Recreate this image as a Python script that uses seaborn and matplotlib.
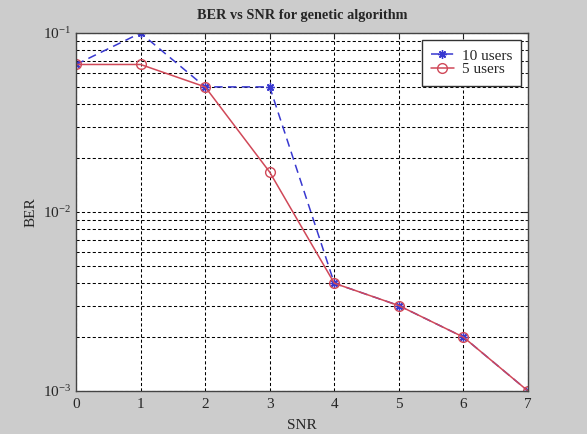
import numpy as np
import pandas as pd
import matplotlib
matplotlib.use('Agg')
import matplotlib.pyplot as plt
import seaborn as sns

snr = [0, 1, 2, 3, 4, 5, 6, 7]
ber_10_users = [0.0667, 0.1, 0.05, 0.05, 0.004, 0.003, 0.002, 0.001]
ber_5_users = [0.0667, 0.0667, 0.05, 0.0167, 0.004, 0.003, 0.002, 0.001]

sns.set_style('white')
plt.rcParams['font.family'] = ['Liberation Serif', 'DejaVu Serif']
plt.rcParams['mathtext.fontset'] = 'stix'

df10 = pd.DataFrame({'SNR': snr, 'BER': ber_10_users})
df5 = pd.DataFrame({'SNR': snr, 'BER': ber_5_users})

fig = plt.figure(figsize=(5.87, 4.34), dpi=100, facecolor='#cccccc')
ax = fig.add_axes([76/587, 1 - 391/434, 452/587, 358/434])
ax.set_facecolor('white')

sns.lineplot(data=df10, x='SNR', y='BER', ax=ax, color='#3838d0', marker=(8, 2, 0),
             markersize=6, markeredgecolor='#3838d0', markeredgewidth=1.0,
             linewidth=1.1, label='10 users')
ax.lines[-1].set_dashes([5.5, 3.5])
sns.lineplot(data=df5, x='SNR', y='BER', ax=ax, color='#d04858', marker='o',
             markersize=7, markerfacecolor='none', markeredgecolor='#d04858',
             markeredgewidth=1.0, linewidth=1.1, label='5 users')

ax.set_yscale('log')
ax.set_xlim(0, 7)
ax.set_ylim(1e-3, 1e-1)
ax.set_xticks(snr)
ax.grid(True, which='both', color='black', linestyle=(0, (3, 2.2)), linewidth=0.75)
ax.tick_params(which='both', direction='in', top=True, right=True, labelsize=11)
ax.tick_params(axis='x', pad=5)
for s in ax.spines.values():
    s.set_color('#444444')
    s.set_linewidth(1.0)

ax.set_title('BER vs SNR for genetic algorithm', fontsize=10.3, fontweight='bold', pad=10)
ax.set_xlabel('SNR', fontsize=11, labelpad=6)
ax.set_ylabel('BER', fontsize=11, labelpad=4)

leg = ax.legend(loc='upper right', fontsize=11, frameon=True, fancybox=False,
                handlelength=1.5, borderpad=0.6, labelspacing=0.0, handletextpad=0.5,
                borderaxespad=0.45)
leg.get_frame().set_edgecolor('#333333')
leg.get_frame().set_linewidth(1.0)
leg.get_frame().set_alpha(1)

fig.savefig('out.png', dpi=100, facecolor=fig.get_facecolor())
